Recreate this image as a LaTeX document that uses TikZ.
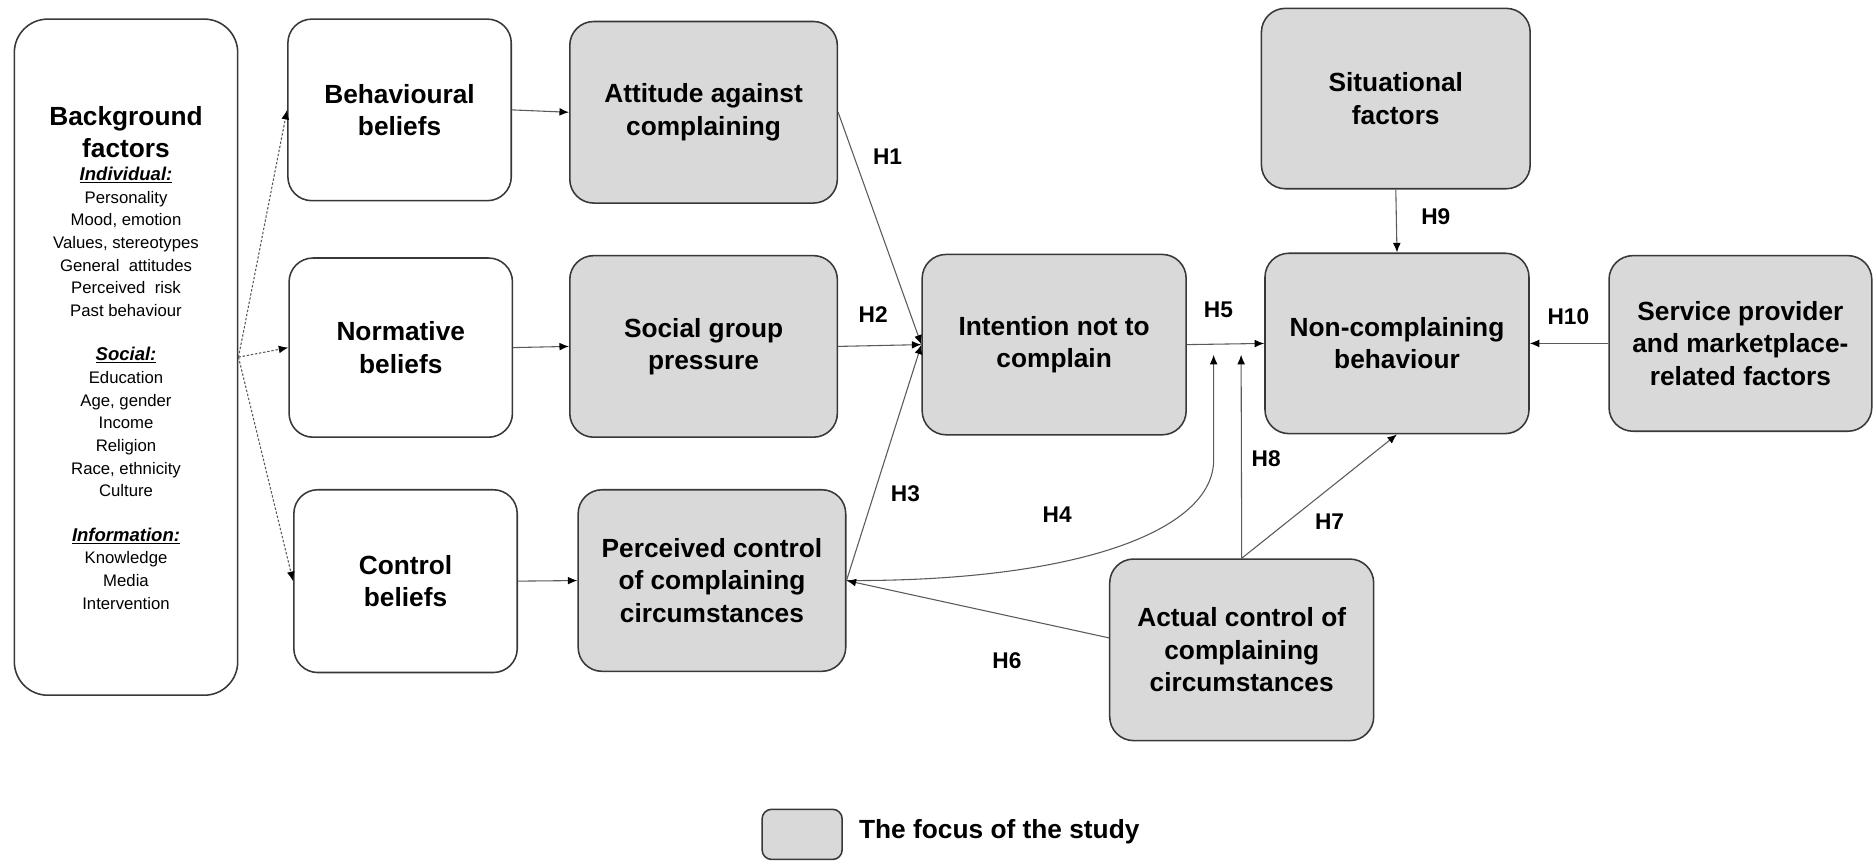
\documentclass[tikz,border=0pt]{standalone}
\usepackage{fontspec}
\setmainfont{Liberation Sans}
\usetikzlibrary{arrows.meta}
\definecolor{focusgray}{HTML}{D9D9D9}
\definecolor{edgegray}{HTML}{383838}
\definecolor{linkgray}{HTML}{5A5A5A}

\begin{document}
\begin{tikzpicture}[x=1pt,y=-1pt,
  box/.style={draw=edgegray, line width=1.3pt, rounded corners=20pt, align=center,
              font=\fontsize{22}{27}\selectfont\bfseries, inner sep=0pt},
  whitebox/.style={box, fill=white},
  focusbox/.style={box, fill=focusgray},
  link/.style={draw=linkgray, line width=0.9pt, -{Latex[length=8pt,width=6.5pt,black]}},
  dotlink/.style={link, dash pattern=on 2pt off 1.5pt},
  hlabel/.style={font=\fontsize{19}{22}\selectfont\bfseries, inner sep=0pt},
  bgtitle/.style={anchor=base, inner sep=0pt, font=\fontsize{22}{27}\selectfont\bfseries},
  bghead/.style={anchor=base, inner sep=0pt, font=\fontsize{15.5}{19}\selectfont\bfseries\itshape},
  bgitem/.style={anchor=base, inner sep=0pt, font=\fontsize{14}{19}\selectfont}
]
\useasboundingbox (0,0) rectangle (1568,720);

% background factors column
\node[whitebox, rounded corners=28pt, minimum width=187pt, minimum height=566pt] (bg) at (105.5,299) {};
\node[bgtitle] (bgt1) at (105.5,105) {Background};
\node[bgtitle] (bgt2) at (105.5,132) {factors};
\node[bghead] (bgh1) at (105.5,151) {\underline{Individual:}};
\foreach \t/\y [count=\i] in {Personality/170, {Mood, emotion}/189, {Values, stereotypes}/208,
    General\ \ attitudes/227, Perceived\ \ risk/246, Past behaviour/265}
  \node[bgitem] (bgi\i) at (105.5,\y) {\t};
\node[bghead] (bgh2) at (105.5,302) {\underline{Social:}};
\foreach \t/\y [count=\i] in {Education/321, {Age, gender}/340, Income/359, Religion/378,
    {Race, ethnicity}/397, Culture/416}
  \node[bgitem] (bgs\i) at (105.5,\y) {\t};
\node[bghead] (bgh3) at (105.5,453) {\underline{Information:}};
\foreach \t/\y [count=\i] in {Knowledge/472, Media/491, Intervention/510}
  \node[bgitem] (bgn\i) at (105.5,\y) {\t};

% belief boxes
\node[whitebox, minimum width=187pt, minimum height=152pt] (beh) at (334.5,92) {Behavioural\\beliefs};
\node[whitebox, minimum width=187pt, minimum height=150pt] (nor) at (335.5,291) {Normative\\beliefs};
\node[whitebox, minimum width=187pt, minimum height=153pt] (con) at (339.5,486.5) {Control\\beliefs};

% constructs in focus
\node[focusbox, minimum width=224pt, minimum height=152pt] (att) at (589,94) {Attitude against\\complaining};
\node[focusbox, minimum width=224pt, minimum height=152pt] (soc) at (589,290) {Social group\\pressure};
\node[focusbox, minimum width=224pt, minimum height=152pt] (per) at (596,486) {Perceived control\\of complaining\\circumstances};
\node[focusbox, minimum width=221pt, minimum height=151pt] (int) at (882.5,288.5) {Intention not to\\complain};
\node[focusbox, minimum width=225pt, minimum height=151pt] (sit) at (1168.5,82.5) {Situational\\factors};
\node[focusbox, minimum width=221pt, minimum height=151pt] (non) at (1169.5,287.5) {Non-complaining\\behaviour};
\node[focusbox, minimum width=220pt, minimum height=147pt] (ser) at (1457,287.5) {Service provider\\and marketplace-\\related factors};
\node[focusbox, minimum width=221pt, minimum height=152pt] (act) at (1039.5,544) {Actual control of\\complaining\\circumstances};

% background factors feed the beliefs
\draw[dotlink] (bg.east) -- (beh.west);
\draw[dotlink] (bg.east) -- (nor.west);
\draw[dotlink] (bg.east) -- (con.west);

% beliefs to their constructs
\draw[link] (beh.east) -- (att.west);
\draw[link] (nor.east) -- (soc.west);
\draw[link] (con.east) -- (per.west);

% hypothesised paths
\coordinate (h8tip) at (1039,297);
\coordinate (h4tip) at (1016,297);
\coordinate (h4bend) at (1016,385);
\draw[link] (att.east) -- (int.west);
\draw[link] (soc.east) -- (int.west);
\draw[link] (per.east) -- (int.west);
\draw[link] (int.east) -- (non.west);
\draw[link] (sit.south) -- (non.north);
\draw[link] (ser.west) -- (non.east);
\draw[link] (act.north) -- (non.south);
\draw[link] (act.north) -- (h8tip);
\draw[link] (per.east) .. controls (900,487) and (1016,445) .. (h4bend) -- (h4tip);
\draw[link] ([yshift=10pt]act.west) -- (per.east);

% hypothesis labels
\node[hlabel] (lh1) at (743,131) {H1};
\node[hlabel] (lh2) at (731,263) {H2};
\node[hlabel] (lh3) at (758,413) {H3};
\node[hlabel] (lh4) at (885,431) {H4};
\node[hlabel] (lh5) at (1020,259) {H5};
\node[hlabel] (lh6) at (843,553) {H6};
\node[hlabel] (lh7) at (1113,437) {H7};
\node[hlabel] (lh8) at (1060,384) {H8};
\node[hlabel] (lh9) at (1202,181) {H9};
\node[hlabel] (lh10) at (1313,265) {H10};

% legend
\node[focusbox, rounded corners=8pt, minimum width=67pt, minimum height=42pt] (key) at (671.5,698.5) {};
\node[anchor=base west, inner sep=0pt, font=\fontsize{22}{27}\selectfont\bfseries] (keytext) at (719,702) {The focus of the study};
\end{tikzpicture}
\end{document}
